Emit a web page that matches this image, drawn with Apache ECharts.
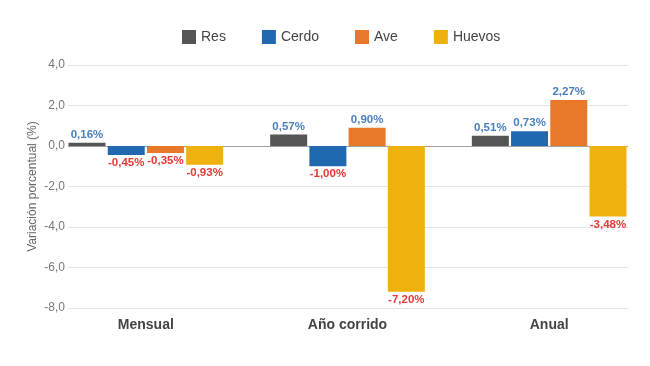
<!DOCTYPE html>
<html><head><meta charset="utf-8">
<script src="https://cdn.jsdelivr.net/npm/echarts@6/dist/echarts.min.js"></script>
<style>html,body{margin:0;padding:0;background:#fff}#c{width:650px;height:366px}</style>
</head><body><div id="c"></div>
<script>
const categories = ['Mensual', 'Año corrido', 'Anual'];
const seriesNames = ['Res', 'Cerdo', 'Ave', 'Huevos'];
const res = [0.16, 0.57, 0.51];
const cerdo = [-0.45, -1.00, 0.73];
const ave = [-0.35, 0.90, 2.27];
const huevos = [-0.93, -7.20, -3.48];
const yTicks = [-8, -6, -4, -2, 0, 2, 4];
const colors = ['#555555', '#2068b0', '#e8792a', '#efb10e'];

const values = [res, cerdo, ave, huevos];
const fmtY = v => v.toFixed(1).replace('.', ',');
const fmtL = v => v.toFixed(2).replace('.', ',') + '%';

const chart = echarts.init(document.getElementById('c'), null, {renderer: 'canvas'});
const splitColors = yTicks.map(t => t === 0 ? '#a0a0a0' : '#e3e3e3');
const yMin = yTicks[0], yMax = yTicks[yTicks.length - 1], yInt = yTicks[1] - yTicks[0];

chart.setOption({
  animation: false,
  textStyle: {fontFamily: 'Arial, "Liberation Sans", sans-serif'},
  legend: {
    data: seriesNames, top: 25, left: 177, icon: 'rect',
    itemWidth: 14, itemHeight: 14, itemGap: 36,
    textStyle: {fontSize: 14, color: '#444'}
  },
  grid: [
    {left: 68, right: 22, top: 65, bottom: 58},
    {left: 45, width: 606, top: 65, bottom: 58}
  ],
  xAxis: [
    {gridIndex: 0, type: 'category', data: categories, show: false},
    {gridIndex: 1, type: 'category', data: categories,
     axisLine: {show: false}, axisTick: {show: false},
     axisLabel: {fontSize: 14, fontWeight: 'bold', color: '#444', margin: 10}}
  ],
  yAxis: [
    {gridIndex: 0, type: 'value', min: yMin, max: yMax, interval: yInt,
     name: 'Variación porcentual (%)', nameLocation: 'middle', nameGap: 29,
     nameMoveOverlap: false,
     nameTextStyle: {fontSize: 12, color: '#666'},
     axisLine: {show: false}, axisTick: {show: false},
     axisLabel: {formatter: fmtY, fontSize: 12, color: '#777', margin: 3},
     splitLine: {lineStyle: {color: splitColors, width: 1}}},
    {gridIndex: 1, type: 'value', min: yMin, max: yMax, interval: yInt, show: false,
     splitLine: {show: false}}
  ],
  series: seriesNames.map((name, i) => ({
    name, type: 'bar', xAxisIndex: 1, yAxisIndex: 1,
    barWidth: 37, barGap: '6%',
    itemStyle: {color: colors[i]},
    data: values[i].map(v => ({
      value: v,
      label: {
        show: true, position: v >= 0 ? 'top' : 'bottom', distance: 2,
        formatter: fmtL(v), fontSize: 11.5, fontWeight: 'bold',
        color: v >= 0 ? '#4a7fbd' : '#e53935'
      }
    }))
  }))
});
</script></body></html>
